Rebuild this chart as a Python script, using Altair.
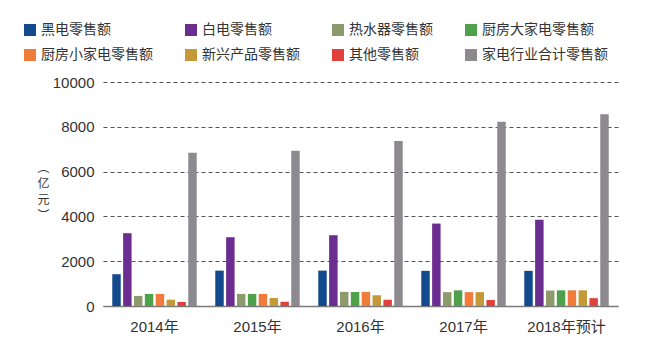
import altair as alt
import pandas as pd

years = ["2014年", "2015年", "2016年", "2017年", "2018年预计"]
series = ["黑电零售额", "白电零售额", "热水器零售额", "厨房大家电零售额",
          "厨房小家电零售额", "新兴产品零售额", "其他零售额", "家电行业合计零售额"]
colors = ["#124a8d", "#6b2d90", "#8d9a6b", "#4fa14b",
          "#f07b3a", "#c39a37", "#e1413b", "#8c8a8e"]

black = [1420, 1580, 1580, 1570, 1570]
white = [3250, 3070, 3160, 3680, 3850]
heater = [450, 540, 630, 620, 690]
kitchen_big = [540, 540, 630, 700, 700]
kitchen_small = [540, 540, 630, 620, 700]
new_products = [280, 360, 480, 620, 700]
other = [180, 190, 280, 270, 350]
total = [6840, 6930, 7370, 8220, 8560]

values = [black, white, heater, kitchen_big, kitchen_small, new_products, other, total]

rows = []
for s, vals in zip(series, values):
    for y, v in zip(years, vals):
        rows.append({"year": y, "series": s, "value": v})
df = pd.DataFrame(rows)

# legend fills column by column with 2 rows: interleave so rows read left to right
legend_order = [series[i] for i in (0, 4, 1, 5, 2, 6, 3, 7)]
legend_colors = [colors[i] for i in (0, 4, 1, 5, 2, 6, 3, 7)]

FONT = "Liberation Sans, Noto Sans CJK SC, sans-serif"
CJK = "Noto Sans CJK SC, sans-serif"

chart = alt.Chart(df).mark_bar().encode(
    x=alt.X("year:N", sort=years,
            scale=alt.Scale(paddingInner=0.18, paddingOuter=0.09),
            axis=alt.Axis(title=None, labelAngle=0, ticks=False, domain=True,
                          domainColor="#7a7a7a", domainWidth=1.5,
                          labelFontSize=15, labelColor="#333333",
                          labelPadding=13, labelFont=FONT)),
    xOffset=alt.XOffset("series:N", sort=series,
                        scale=alt.Scale(paddingInner=0.22, paddingOuter=0)),
    y=alt.Y("value:Q",
            scale=alt.Scale(domain=[0, 10000], nice=False),
            axis=alt.Axis(values=[0, 2000, 4000, 6000, 8000, 10000], format="d",
                          domain=False, ticks=False, grid=True,
                          gridColor="#555555", gridDash=[4, 3], gridWidth=1,
                          labelFontSize=15, labelColor="#333333", labelPadding=9,
                          labelFont=FONT,
                          title=["︵", "亿", "元", "︶"], titleAngle=0,
                          titleX=-60, titleY=80, titleAlign="center",
                          titleBaseline="top", titleFontSize=12,
                          titleFontWeight="normal", titleLineHeight=16,
                          titleColor="#333333", titleFont=CJK)),
    color=alt.Color("series:N",
                    scale=alt.Scale(domain=legend_order, range=legend_colors),
                    legend=alt.Legend(title=None, orient="none",
                                      legendX=-80, legendY=-59,
                                      columns=4, columnPadding=31, rowPadding=11,
                                      symbolType="square", symbolSize=144,
                                      symbolStrokeWidth=0, labelOffset=4,
                                      labelFontSize=14, labelColor="#333333",
                                      labelFont=FONT, labelLimit=300,
                                      padding=0)),
).properties(
    width=515, height=224,
    autosize=alt.AutoSizeParams(type="none"),
    padding={"left": 95, "top": 74, "right": 23, "bottom": 47},
    background="white",
).configure_view(stroke=None)

chart.save("out.html", embed_options={"renderer": "svg", "actions": False})
